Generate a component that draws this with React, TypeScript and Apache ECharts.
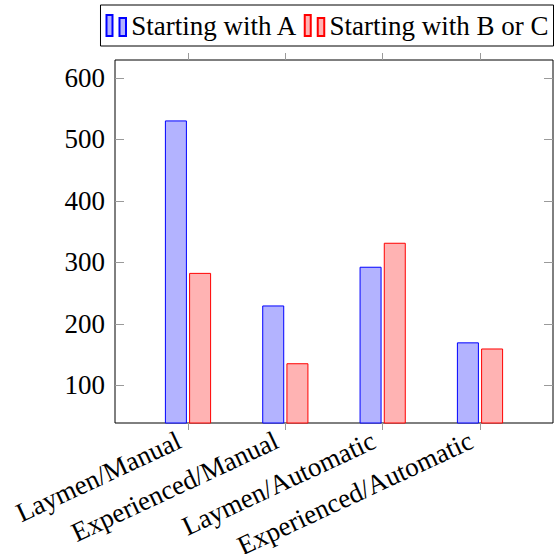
import React, { useEffect, useRef } from "react";
import * as echarts from "echarts";

const categories = [
  "Laymen/Manual",
  "Experienced/Manual",
  "Laymen/Automatic",
  "Experienced/Automatic",
];
const startingWithA = [531, 230, 293, 170];
const startingWithBorC = [283, 136, 332, 160];
const yTicks = [100, 200, 300, 400, 500, 600];

const FONT = "'Liberation Serif', 'Times New Roman', serif";
const FONT_SIZE = 27;
const TICK_COLOR = "#9a9a9a";
const LEGEND_ICON = "path://M0,0H6V21H0Z M13,3H19.5V21H13Z";

export default function App() {
  const ref = useRef<HTMLDivElement>(null);

  useEffect(() => {
    if (!ref.current) return;
    const chart = echarts.init(ref.current, null, { renderer: "svg" });
    const xPositions = categories.map((_, i) => i);

    const sharedX = {
      type: "value" as const,
      min: -0.75,
      max: 3.75,
      splitLine: { show: false },
      axisLine: { show: false, onZero: false },
    };
    const sharedY = {
      type: "value" as const,
      min: 38.8,
      max: 629.3,
      splitLine: { show: false },
      axisLine: { show: false, onZero: false },
    };

    chart.setOption({
      animation: false,
      textStyle: { fontFamily: FONT },
      grid: {
        left: 115,
        right: 2,
        top: 60,
        bottom: 131,
        outerBoundsMode: "none",
        containLabel: false,
        show: true,
        borderColor: "#000",
        borderWidth: 1,
        backgroundColor: "transparent",
      },
      legend: {
        right: 1.5,
        top: 5,
        padding: [7, 5, 7, 5],
        itemGap: 6,
        itemWidth: 20,
        itemHeight: 21,
        icon: LEGEND_ICON,
        borderColor: "#000",
        borderWidth: 1,
        textStyle: {
          fontFamily: FONT,
          fontSize: FONT_SIZE,
          color: "#000",
        },
      },
      xAxis: [
        {
          ...sharedX,
          position: "bottom",
          axisTick: {
            show: true,
            inside: false,
            length: 7,
            customValues: xPositions,
            lineStyle: { color: TICK_COLOR },
          },
          axisLabel: {
            customValues: xPositions,
            formatter: (v: number) => categories[Math.round(v)] ?? "",
            rotate: 25,
            align: "right",
            verticalAlign: "top",
            margin: -3,
            padding: [0, 16, 0, 0],
            fontFamily: FONT,
            fontSize: FONT_SIZE,
            color: "#000",
          },
        },
        {
          ...sharedX,
          position: "top",
          axisTick: {
            show: true,
            inside: false,
            length: 7,
            customValues: xPositions,
            lineStyle: { color: TICK_COLOR },
          },
          axisLabel: { show: false },
        },
      ],
      yAxis: [
        {
          ...sharedY,
          position: "left",
          axisTick: {
            show: true,
            inside: true,
            length: 9,
            customValues: yTicks,
            lineStyle: { color: TICK_COLOR },
          },
          axisLabel: {
            customValues: yTicks,
            margin: 10,
            fontFamily: FONT,
            fontSize: FONT_SIZE,
            color: "#000",
          },
        },
        {
          ...sharedY,
          position: "right",
          axisTick: {
            show: true,
            inside: true,
            length: 9,
            customValues: yTicks,
            lineStyle: { color: TICK_COLOR },
          },
          axisLabel: { show: false },
        },
      ],
      series: [
        {
          name: "Starting with A",
          type: "bar",
          xAxisIndex: 0,
          yAxisIndex: 0,
          barWidth: 22,
          barGap: "10%",
          clip: true,
          data: startingWithA.map((v, i) => [xPositions[i], v]),
          itemStyle: { color: "#b3b3ff", borderColor: "#0000ff", borderWidth: 1 },
        },
        {
          name: "Starting with B or C",
          type: "bar",
          xAxisIndex: 0,
          yAxisIndex: 0,
          barWidth: 22,
          barGap: "10%",
          clip: true,
          data: startingWithBorC.map((v, i) => [xPositions[i], v]),
          itemStyle: { color: "#ffb3b3", borderColor: "#ff0000", borderWidth: 1 },
        },
      ],
    });

    return () => chart.dispose();
  }, []);

  return (
    <div
      ref={ref}
      style={{ position: "absolute", left: 0, top: 0, width: 555, height: 554 }}
    />
  );
}
